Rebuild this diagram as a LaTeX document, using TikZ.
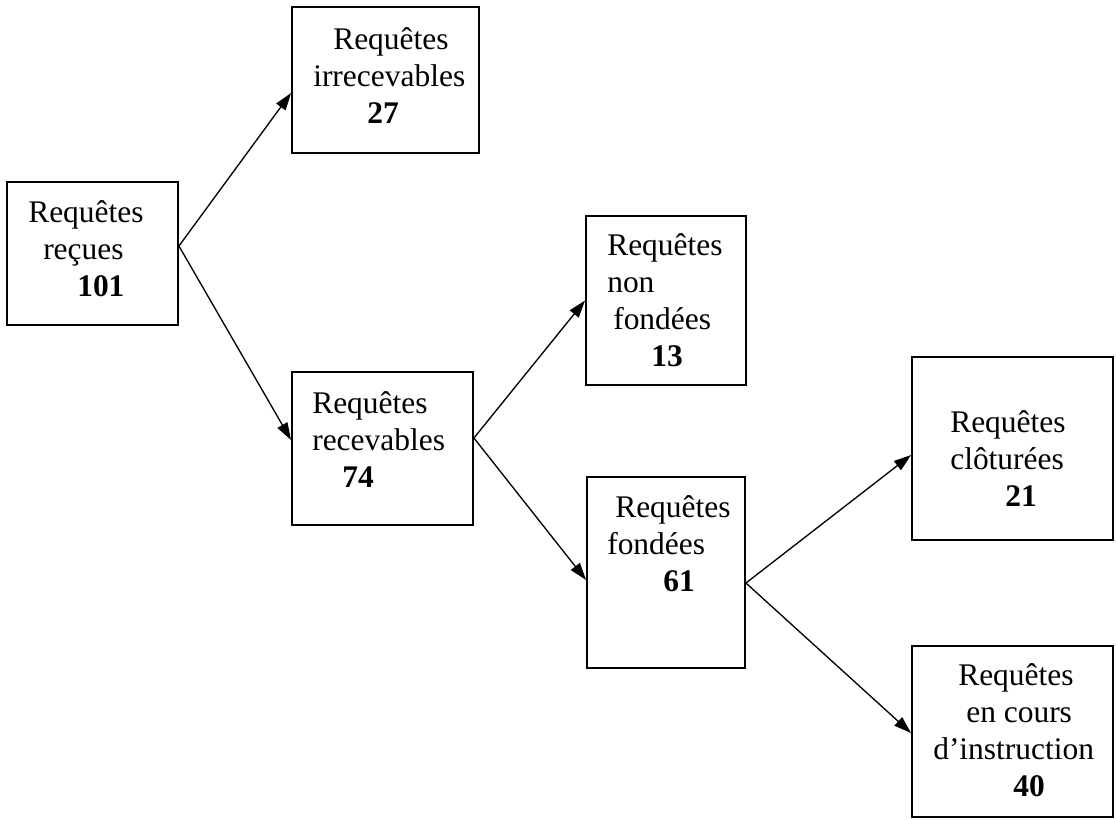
\documentclass[tikz,border=0pt]{standalone}
\usepackage{fontspec}
\setmainfont{Liberation Serif}
\usetikzlibrary{arrows.meta,fit,calc}

\newcommand{\boxlines}[1]{\begin{tabular}[t]{@{}l@{}}#1\end{tabular}}

\begin{document}
\begin{tikzpicture}[x=0.75pt,y=-0.75pt]

\tikzset{
  box/.style={draw=black, line width=1.4pt, inner sep=0pt},
  boxtext/.style={anchor=base west, inner sep=0pt,
                  font=\fontsize{23.6}{27.75}\selectfont},
  flow/.style={black, line width=1pt,
                  -{Triangle[length=13pt, width=8.5pt]}}
}

\useasboundingbox (0,0) rectangle (1116,819);

% Boxes
\node[box, fit={(7,182) (178,325)}] (recues) {};
\node[box, fit={(292,7) (479,153)}] (irrecevables) {};
\node[box, fit={(292,372) (473,525)}] (recevables) {};
\node[box, fit={(586,216) (746,385)}] (nonfondees) {};
\node[box, fit={(587,477) (745,668)}] (fondees) {};
\node[box, fit={(912,357) (1113,540)}] (cloturees) {};
\node[box, fit={(912,646) (1113,817)}] (encours) {};

% Texts
\node[boxtext] (recues-t) at (28,222)
  {\boxlines{Requêtes\\ \hspace*{11.25pt}reçues\\ \hspace*{36.75pt}\textbf{101}}};
\node[boxtext] (irrecevables-t) at (313,49)
  {\boxlines{\hspace*{15pt}Requêtes\\ irrecevables\\ \hspace*{40.5pt}\textbf{27}}};
\node[boxtext] (recevables-t) at (312,413)
  {\boxlines{Requêtes\\ recevables\\ \hspace*{22.5pt}\textbf{74}}};
\node[boxtext] (nonfondees-t) at (607,255)
  {\boxlines{Requêtes\\ non\\ \hspace*{4.5pt}fondées\\ \hspace*{33pt}\textbf{13}}};
\node[boxtext] (fondees-t) at (607,517)
  {\boxlines{\hspace*{6pt}Requêtes\\ fondées\\ \hspace*{42pt}\textbf{61}}};
\node[boxtext] (cloturees-t) at (950,432)
  {\boxlines{Requêtes\\ clôturées\\ \hspace*{41.25pt}\textbf{21}}};
\node[boxtext] (encours-t) at (933,685)
  {\boxlines{\hspace*{18.75pt}Requêtes\\ \hspace*{24.75pt}en cours\\ d’instruction\\ \hspace*{60pt}\textbf{40}}};

% Connectors
\draw[flow] ($(recues.east)+(0,-7.5)$) -- ($(irrecevables.west)+(0,13)$);
\draw[flow] ($(recues.east)+(0,-7.5)$) -- ($(recevables.west)+(0,-8.5)$);
\draw[flow] ($(recevables.east)+(0,-10.5)$) -- (nonfondees.west);
\draw[flow] ($(recevables.east)+(0,-10.5)$) -- ($(fondees.west)+(0,7.5)$);
\draw[flow] ($(fondees.east)+(0,10.5)$) -- ($(cloturees.west)+(0,6.5)$);
\draw[flow] ($(fondees.east)+(0,10.5)$) -- ($(encours.west)+(0,1.5)$);

\end{tikzpicture}
\end{document}
